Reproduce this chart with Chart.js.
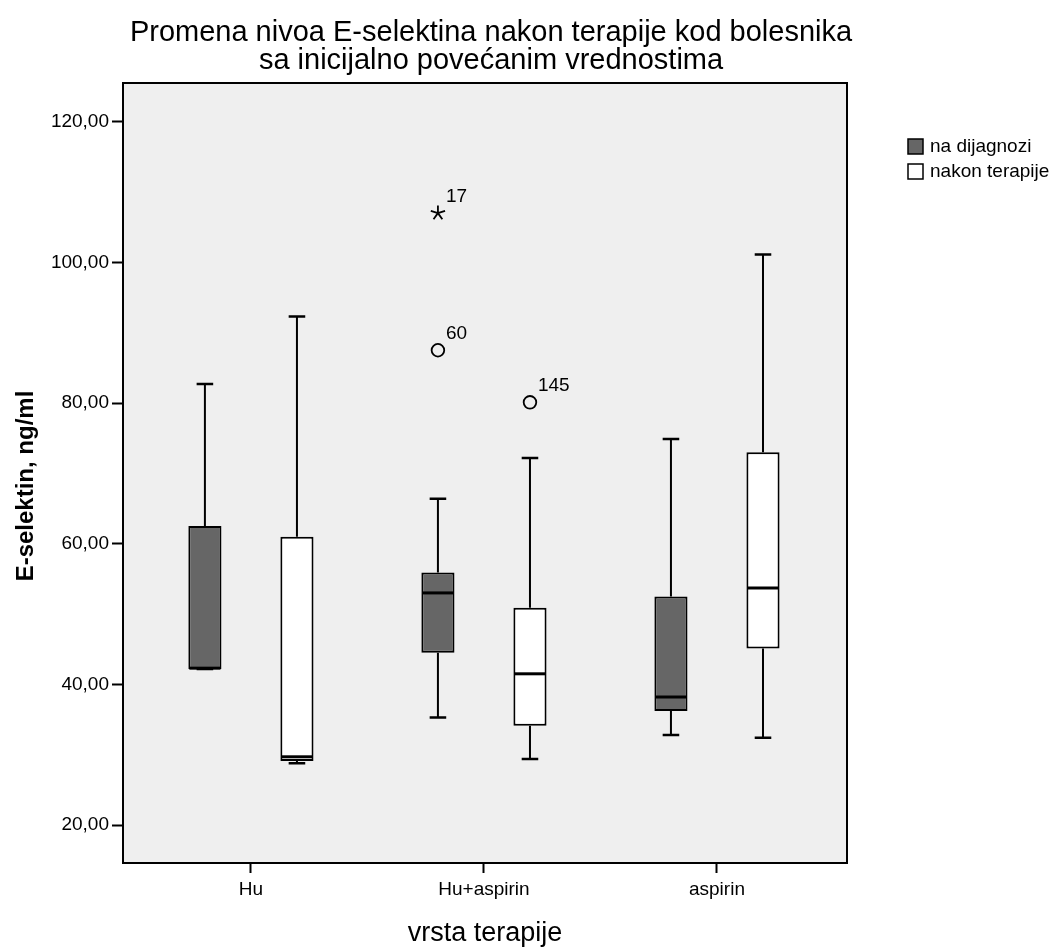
<!DOCTYPE html>
<html lang="sr">
<head>
<meta charset="UTF-8">
<title>E-selektin</title>
<style>
  html, body { margin: 0; padding: 0; background: #fff; }
  .chart-container { position: relative; width: 1059px; height: 947px; }
</style>
</head>
<body>
<div class="chart-container">
    <canvas id="chart"></canvas>
</div>

<script src="https://cdn.jsdelivr.net/npm/chart.js@4.4.1/dist/chart.umd.min.js"></script>
<script>
    const groups = ['Hu', 'Hu+aspirin', 'aspirin'];
    const seriesNames = ['na dijagnozi', 'nakon terapije'];
    const yTicks = [20, 40, 60, 80, 100, 120];

    // boxplot summaries (min, Q1, median, Q3, max) per group
    const diagMin = [42.2, 35.3, 32.8];
    const diagQ1 = [42.2, 44.5, 36.2];
    const diagMed = [42.3, 53.0, 38.2];
    const diagQ3 = [62.5, 55.9, 52.5];
    const diagMax = [82.7, 66.4, 74.9];

    const terMin = [28.8, 29.4, 32.4];
    const terQ1 = [29.1, 34.1, 45.1];
    const terMed = [29.7, 41.5, 53.7];
    const terQ3 = [61.0, 50.9, 73.0];
    const terMax = [92.3, 72.2, 101.1];

    // outliers: group index, series index, value, case number, extreme (*)
    const outGroup = [1, 1, 1];
    const outSeries = [0, 0, 1];
    const outValue = [107.0, 87.5, 80.1];
    const outCase = ['17', '60', '145'];
    const outExtreme = [true, false, false];

    const stats = [
        { min: diagMin, q1: diagQ1, med: diagMed, q3: diagQ3, max: diagMax },
        { min: terMin, q1: terQ1, med: terMed, q3: terQ3, max: terMax }
    ];
    const fills = ['#666666', '#ffffff'];

    const FONT = "'Liberation Sans', Arial, sans-serif";

    function boxData(q1, q3) {
        return groups.map((g, i) => ({ x: i, y: [q1[i], q3[i]] }));
    }

    const boxExtras = {
        id: 'boxExtras',
        beforeDraw(chart) {
            const { ctx, chartArea: a } = chart;
            ctx.save();
            ctx.fillStyle = '#efefef';
            ctx.fillRect(a.left, a.top, a.right - a.left, a.bottom - a.top);
            ctx.restore();
        },
        afterDatasetsDraw(chart) {
            const { ctx, chartArea: a } = chart;
            const y = chart.scales.y;
            ctx.save();
            ctx.strokeStyle = '#000';
            ctx.lineCap = 'butt';

            stats.forEach((st, s) => {
                const meta = chart.getDatasetMeta(s);
                meta.data.forEach((bar, j) => {
                    const x = bar.x, w = bar.width;
                    const yMin = y.getPixelForValue(st.min[j]);
                    const yMax = y.getPixelForValue(st.max[j]);
                    const yQ1 = y.getPixelForValue(st.q1[j]);
                    const yQ3 = y.getPixelForValue(st.q3[j]);
                    const yMed = y.getPixelForValue(st.med[j]);

                    // whiskers
                    ctx.lineWidth = 2;
                    ctx.beginPath();
                    ctx.moveTo(x, yQ3); ctx.lineTo(x, yMax);
                    ctx.moveTo(x, yQ1); ctx.lineTo(x, yMin);
                    ctx.stroke();
                    ctx.lineWidth = 2.5;
                    ctx.beginPath();
                    ctx.moveTo(x - w / 4, yMax); ctx.lineTo(x + w / 4, yMax);
                    ctx.moveTo(x - w / 4, yMin); ctx.lineTo(x + w / 4, yMin);
                    ctx.stroke();

                    // median
                    ctx.lineWidth = 3;
                    ctx.beginPath();
                    ctx.moveTo(x - w / 2 + 1, yMed); ctx.lineTo(x + w / 2 - 1, yMed);
                    ctx.stroke();
                });
            });

            // outliers with case labels
            ctx.font = '19px ' + FONT;
            ctx.fillStyle = '#000';
            ctx.textAlign = 'left';
            ctx.textBaseline = 'alphabetic';
            outValue.forEach((v, k) => {
                const bar = chart.getDatasetMeta(outSeries[k]).data[outGroup[k]];
                const px = bar.x, py = y.getPixelForValue(v);
                ctx.lineWidth = 1.8;
                ctx.beginPath();
                if (outExtreme[k]) {
                    for (let i = 0; i < 5; i++) {
                        const ang = -Math.PI / 2 + i * 2 * Math.PI / 5;
                        ctx.moveTo(px, py);
                        ctx.lineTo(px + 7.5 * Math.cos(ang), py + 7.5 * Math.sin(ang));
                    }
                } else {
                    ctx.arc(px, py, 6.3, 0, Math.PI * 2);
                }
                ctx.stroke();
                ctx.fillText(outCase[k], px + 8, py - 11);
            });

            // frame around plot
            ctx.lineWidth = 2;
            ctx.strokeRect(a.left, a.top, a.right - a.left, a.bottom - a.top);
            ctx.restore();
        },
        afterDraw(chart) {
            const { ctx, chartArea: a } = chart;
            ctx.save();
            ctx.fillStyle = '#000';

            // two-line title
            ctx.font = '29px ' + FONT;
            ctx.textAlign = 'center';
            ctx.textBaseline = 'alphabetic';
            const cx = (a.left + a.right) / 2 + 6;
            ctx.fillText('Promena nivoa E-selektina nakon terapije kod bolesnika', cx, 41);
            ctx.fillText('sa inicijalno povećanim vrednostima', cx, 69);

            // y axis title
            ctx.save();
            ctx.translate(26, 486);
            ctx.rotate(-Math.PI / 2);
            ctx.font = 'bold 24px ' + FONT;
            ctx.textBaseline = 'middle';
            ctx.fillText('E-selektin, ng/ml', 0, 0);
            ctx.restore();

            // legend
            ctx.font = '19px ' + FONT;
            ctx.textAlign = 'left';
            ctx.textBaseline = 'middle';
            seriesNames.forEach((name, i) => {
                const top = 139 + i * 25;
                ctx.fillStyle = fills[i];
                ctx.fillRect(908, top, 15, 15);
                ctx.strokeStyle = '#000';
                ctx.lineWidth = 1.5;
                ctx.strokeRect(908, top, 15, 15);
                ctx.fillStyle = '#000';
                ctx.fillText(name, 930, top + 8);
            });
            ctx.restore();
        }
    };

    const ctx = document.getElementById('chart');
    const config = {
        type: 'bar',
        data: {
            datasets: [
                {
                    label: seriesNames[0],
                    data: boxData(diagQ1, diagQ3),
                    backgroundColor: fills[0],
                    borderColor: '#000',
                    borderWidth: 2,
                    borderSkipped: false,
                    categoryPercentage: 0.79,
                    barPercentage: 0.36
                },
                {
                    label: seriesNames[1],
                    data: boxData(terQ1, terQ3),
                    backgroundColor: fills[1],
                    borderColor: '#000',
                    borderWidth: 2,
                    borderSkipped: false,
                    categoryPercentage: 0.79,
                    barPercentage: 0.36
                }
            ]
        },
        options: {
            responsive: true,
            maintainAspectRatio: false,
            animation: false,
            devicePixelRatio: 1,
            layout: { padding: { top: 83, right: 212, bottom: 0, left: 0 } },
            plugins: {
                legend: { display: false },
                title: { display: false },
                tooltip: { enabled: false }
            },
            scales: {
                x: {
                    type: 'linear',
                    min: -0.549,
                    max: 2.558,
                    offset: false,
                    afterBuildTicks: (s) => { s.ticks = groups.map((g, i) => ({ value: i })); },
                    afterFit: (s) => { s.height = 84; },
                    ticks: {
                        autoSkip: false,
                        maxRotation: 0,
                        padding: 5,
                        color: '#000',
                        font: { family: FONT, size: 19 },
                        callback: (v) => groups[v]
                    },
                    grid: { drawOnChartArea: false, tickLength: 10, tickWidth: 2, tickColor: '#000', offset: false },
                    border: { color: '#000', width: 2 },
                    title: {
                        display: true,
                        text: 'vrsta terapije',
                        color: '#000',
                        font: { family: FONT, size: 27, lineHeight: 1 },
                        padding: { top: 0, bottom: 0 }
                    }
                },
                y: {
                    min: 14.6,
                    max: 125.5,
                    afterBuildTicks: (s) => { s.ticks = yTicks.map(v => ({ value: v })); },
                    afterFit: (s) => { s.width = 123; },
                    ticks: {
                        padding: 3,
                        color: '#000',
                        font: { family: FONT, size: 19 },
                        callback: (v) => v.toFixed(2).replace('.', ',')
                    },
                    grid: { drawOnChartArea: false, tickLength: 11, tickWidth: 2, tickColor: '#000' },
                    border: { color: '#000', width: 2 }
                }
            }
        },
        plugins: [boxExtras]
    };
    const chart = new Chart(ctx, config);
</script>
</body>
</html>
